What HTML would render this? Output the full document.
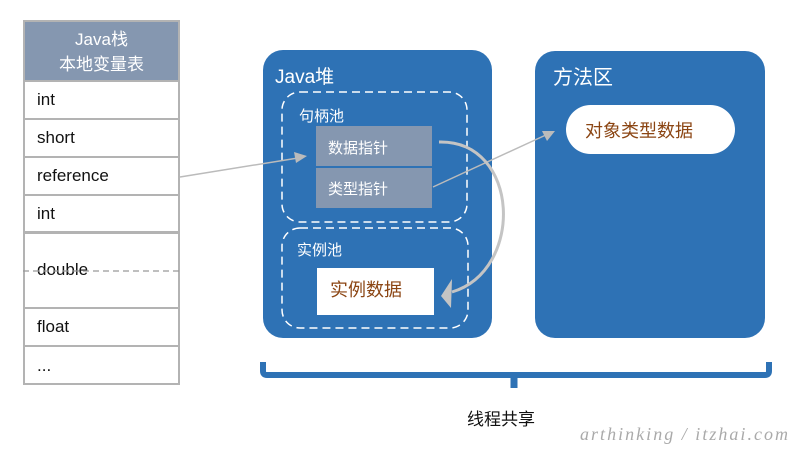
<!DOCTYPE html>
<html><head><meta charset="utf-8"><style>
body{margin:0;width:800px;height:454px;background:#fff;position:relative;overflow:hidden;font-family:"Liberation Sans","Noto Sans CJK SC",sans-serif}
.a{position:absolute;box-sizing:border-box}
.row{position:absolute;left:23px;width:157px;border:2px solid #b3b3b3;border-top:none;font-size:17px;color:#111;padding-left:12px;box-sizing:border-box;background:#fff}
</style></head><body>
<div class="a" style="left:23px;top:20px;width:157px;height:62px;background:#8597b0;border:2px solid #b3b3b3;color:#fff;font-size:17px;text-align:center;line-height:25px;padding-top:5px">Java栈<br>本地变量表</div>
<div class="row" style="top:82px;height:38px;line-height:36px">int</div>
<div class="row" style="top:120px;height:38px;line-height:36px">short</div>
<div class="row" style="top:158px;height:38px;line-height:36px">reference</div>
<div class="row" style="top:196px;height:38px;line-height:36px;border-bottom:3px solid #b3b3b3">int</div>
<div class="row" style="top:234px;height:75px;line-height:72px">double</div>
<div class="row" style="top:309px;height:38px;line-height:36px">float</div>
<div class="row" style="top:347px;height:38px;line-height:38px">...</div>
<svg class="a" style="left:0;top:0" width="800" height="454">
<line x1="23" y1="271" x2="180" y2="271" stroke="#999" stroke-dasharray="6,4" stroke-width="1.2"/>
<rect x="263" y="50" width="229" height="288" rx="20" fill="#2e72b5"/>
<rect x="535" y="51" width="230" height="287" rx="20" fill="#2e72b5"/>
<rect x="282" y="92" width="185" height="130" rx="18" fill="none" stroke="#fff" stroke-width="1.5" stroke-dasharray="8,5"/>
<rect x="282" y="228" width="186" height="100" rx="18" fill="none" stroke="#fff" stroke-width="1.5" stroke-dasharray="8,5"/>
<rect x="316" y="126" width="116" height="40" fill="#8597b0"/>
<rect x="316" y="168" width="116" height="40" fill="#8597b0"/>
<rect x="317" y="268" width="117" height="47" fill="#fff"/>
<rect x="566" y="105" width="169" height="49" rx="24.5" fill="#fff"/>
<line x1="180" y1="177" x2="298" y2="158" stroke="#bbb" stroke-width="1.5"/>
<polygon points="307,156 294,152 296,163" fill="#bbb"/>
<line x1="433" y1="187" x2="548" y2="134" stroke="#bbb" stroke-width="1.5"/>
<polygon points="555,131 542,131 547,141" fill="#bbb"/>
<path d="M439,142 C520,140 525,270 452,292" fill="none" stroke="#c4c4c4" stroke-width="3"/>
<polygon points="441,296 452,279 451,308" fill="#c4c4c4"/>
<path d="M263,362 V371 Q263,375 267,375 H765 Q769,375 769,371 V362" fill="none" stroke="#2e72b5" stroke-width="6"/>
<line x1="514" y1="375" x2="514" y2="388" stroke="#2e72b5" stroke-width="7"/>
<text x="275" y="83" fill="#fff" font-size="19">Java堆</text>
<text x="299" y="121" fill="#fff" font-size="15">句柄池</text>
<text x="328" y="153" fill="#fff" font-size="15">数据指针</text>
<text x="328" y="194" fill="#fff" font-size="15">类型指针</text>
<text x="297" y="255" fill="#fff" font-size="15">实例池</text>
<text x="330" y="296" fill="#8b4513" font-size="18">实例数据</text>
<text x="553" y="84" fill="#fff" font-size="20">方法区</text>
<text x="585" y="137" fill="#8b4513" font-size="18">对象类型数据</text>
<text x="467" y="425" fill="#111" font-size="17">线程共享</text>
<text x="580" y="440" fill="#aaa" font-size="18" font-style="italic" font-family="Liberation Serif,serif" textLength="208">arthinking / itzhai.com</text>
</svg>
</body></html>
